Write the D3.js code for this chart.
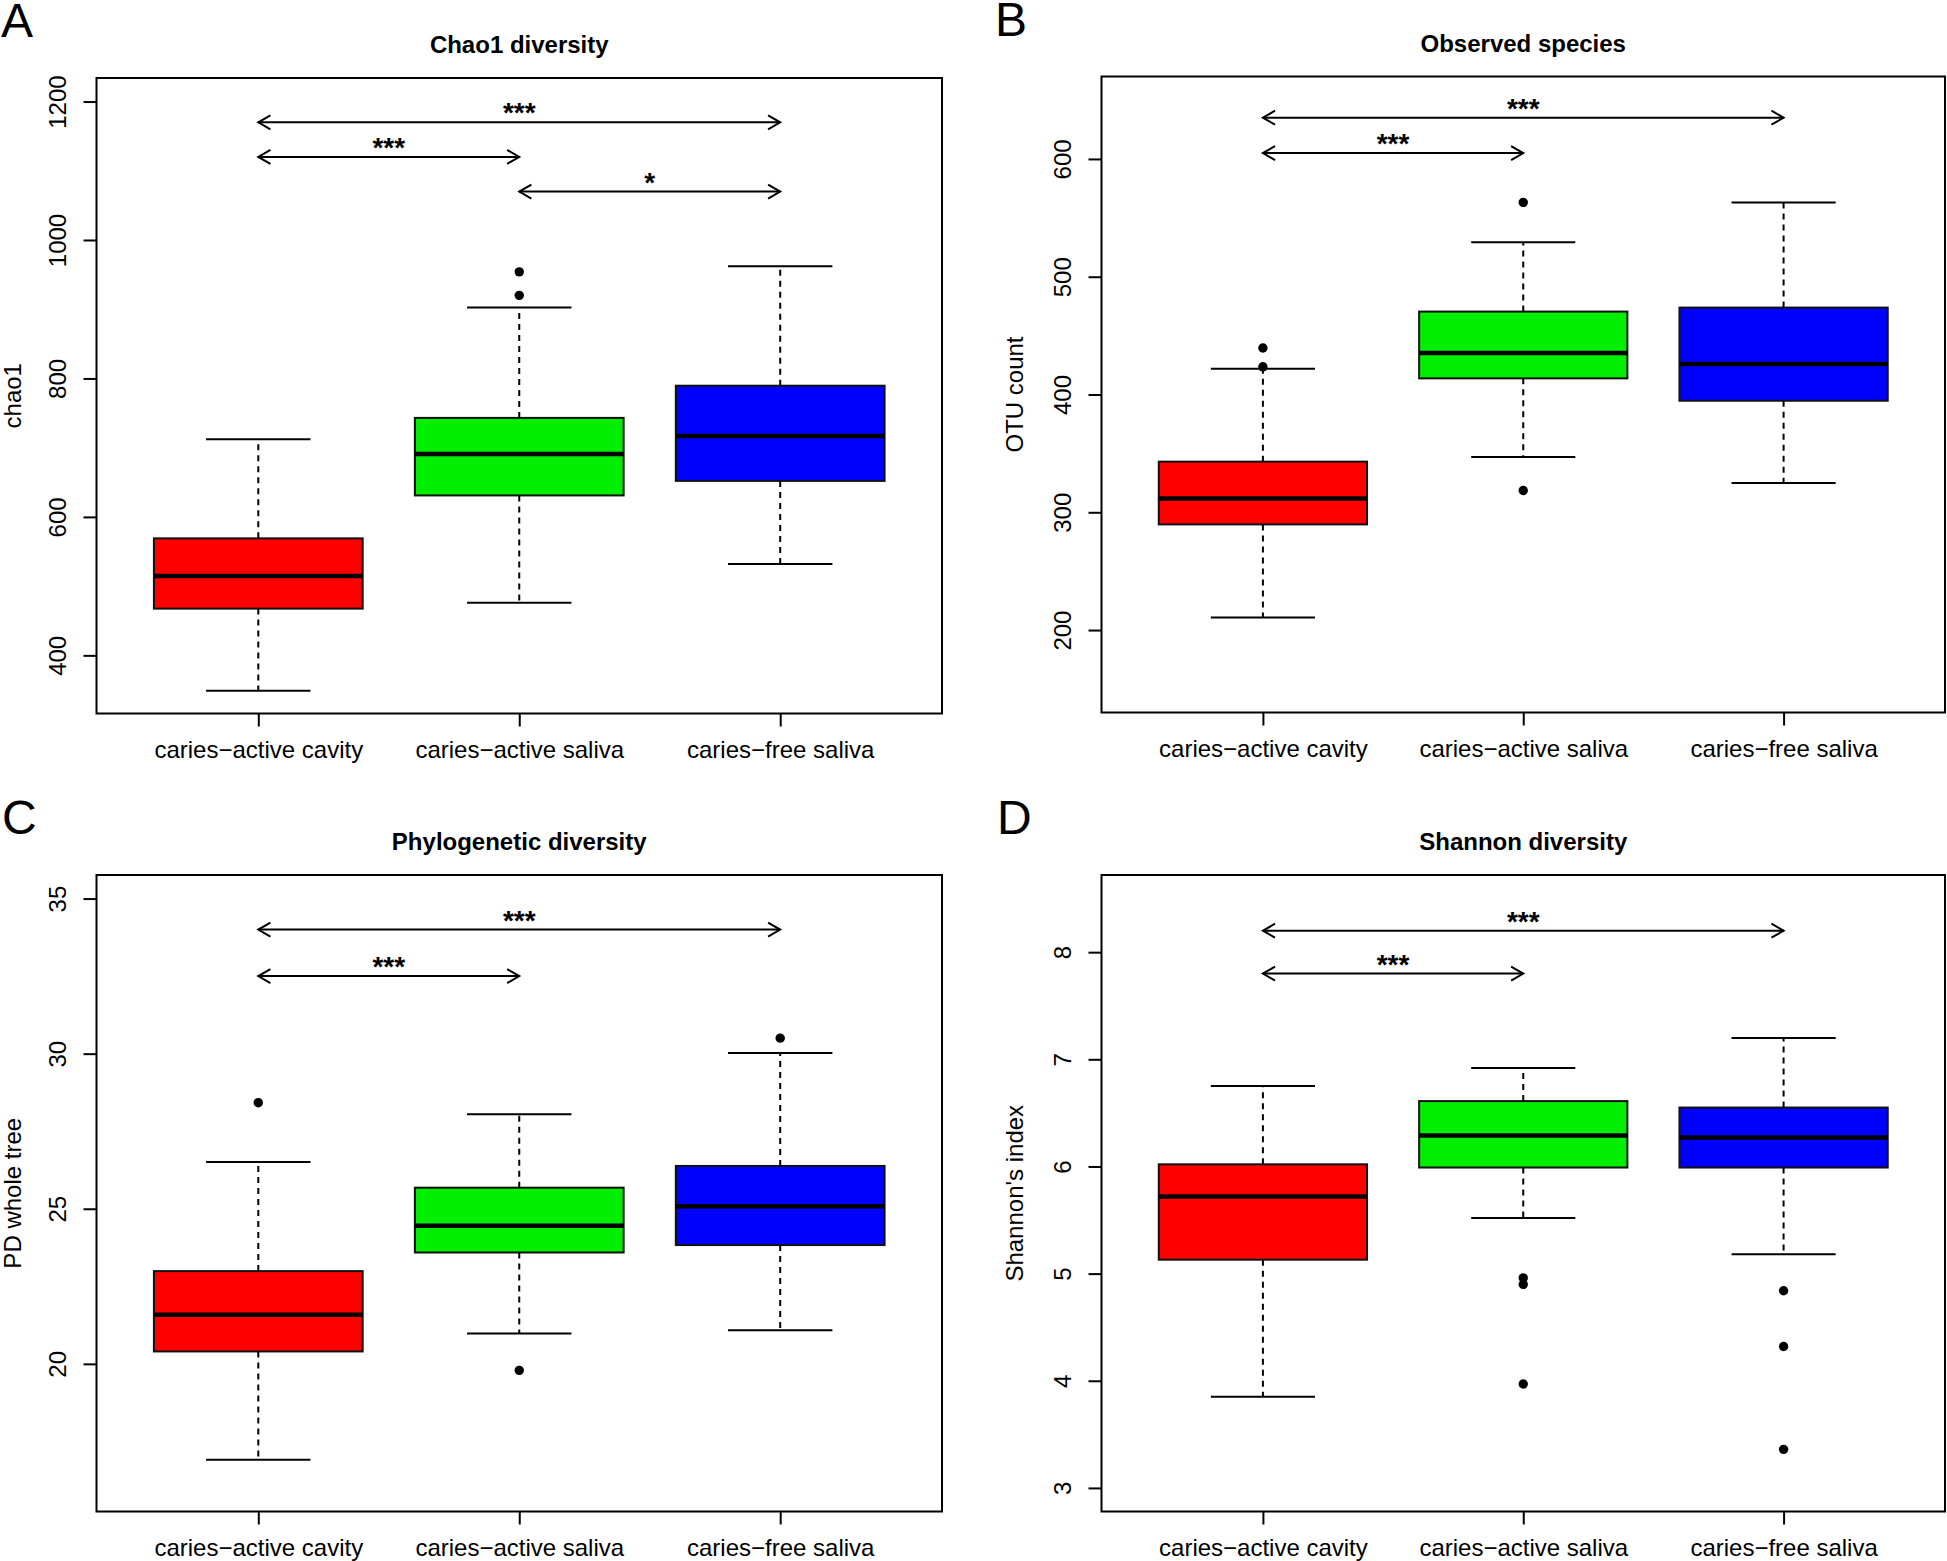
<!DOCTYPE html>
<html><head><meta charset="utf-8">
<script src="https://cdn.jsdelivr.net/npm/d3@7"></script>
<style>
body{margin:0;background:#fff}
svg{display:block}
text{font-family:"Liberation Sans",Arial,Helvetica,sans-serif;fill:#000}
</style>
</head><body>
<svg id="chart" width="1947" height="1561"></svg>
<script>
const categories = ["caries\u2212active cavity","caries\u2212active saliva","caries\u2212free saliva"];
const boxColors = ["#FF0000","#00EE00","#0000FF"];

// each row: [lower whisker, Q1, median, Q3, upper whisker]
const chao1Stats = [[349,467.5,514.5,569,712],[476,631,691,743,902.5],[532,652,717,789.5,962]];
const chao1Outliers = [[],[920,954],[]];
const chao1Ticks = [400,600,800,1000,1200];
const chao1Brackets = [[1,3,1170,"***"],[1,2,1120,"***"],[2,3,1070,"*"]];

const otuStats = [[210.6,289.7,311.7,343,421.8],[346.9,413.7,435.3,470.4,529.3],[324.8,394.7,426,473.8,563.1]];
const otuOutliers = [[423.5,439.5],[318.5,563.1],[]];
const otuTicks = [200,300,400,500,600];
const otuBrackets = [[1,3,635,"***"],[1,2,605,"***"]];

const pdStats = [[16.91,20.4,21.58,22.99,26.51],[20.98,23.59,24.45,25.68,28.05],[21.08,23.83,25.08,26.38,30.02]];
const pdOutliers = [[28.42],[19.79],[30.5]];
const pdTicks = [20,25,30,35];
const pdBrackets = [[1,3,34,"***"],[1,2,32.5,"***"]];

const shannonStats = [[3.85,5.13,5.72,6.02,6.75],[5.52,5.99,6.29,6.61,6.92],[5.18,5.99,6.27,6.55,7.2]];
const shannonOutliers = [[],[3.97,4.9,4.96],[3.36,4.32,4.84]];
const shannonTicks = [3,4,5,6,7,8];
const shannonBrackets = [[1,3,8.2,"***"],[1,2,7.8,"***"]];

const panels = [
  {letter:"A", title:"Chao1 diversity", ylabel:"chao1", stats:chao1Stats, outliers:chao1Outliers, ticks:chao1Ticks, brackets:chao1Brackets,
   ylim:[350,1200], rect:{l:96.5,t:78,r:942,b:713.5}, letterPos:[1,37], ylabX:12},
  {letter:"B", title:"Observed species", ylabel:"OTU count", stats:otuStats, outliers:otuOutliers, ticks:otuTicks, brackets:otuBrackets,
   ylim:[150,650], rect:{l:1101.5,t:76.5,r:1945,b:712.5}, letterPos:[995,36], ylabX:1014},
  {letter:"C", title:"Phylogenetic diversity", ylabel:"PD whole tree", stats:pdStats, outliers:pdOutliers, ticks:pdTicks, brackets:pdBrackets,
   ylim:[16,35], rect:{l:96.5,t:875,r:942,b:1511.5}, letterPos:[2,834], ylabX:12},
  {letter:"D", title:"Shannon diversity", ylabel:"Shannon's index", stats:shannonStats, outliers:shannonOutliers, ticks:shannonTicks, brackets:shannonBrackets,
   ylim:[3,8.5], rect:{l:1101.5,t:875,r:1945,b:1511.5}, letterPos:[997,834], ylabX:1014}
];

const svg = d3.select("#chart");
const FONT = 24;

panels.forEach(p => {
  const R = p.rect;
  const g = svg.append("g");
  const ext = 0.04*(p.ylim[1]-p.ylim[0]);
  const y = d3.scaleLinear().domain([p.ylim[0]-ext, p.ylim[1]+ext]).range([R.b, R.t]);
  const x = d3.scaleLinear().domain([0.38, 3.62]).range([R.l, R.r]);
  const unit = x(2)-x(1);

  // boxes
  p.stats.forEach((s, i) => {
    const cx = x(i+1);
    const [lo, q1, med, q3, hi] = s;
    const bg = g.append("g");
    bg.append("line").attr("x1",cx).attr("x2",cx).attr("y1",y(q3)).attr("y2",y(hi))
      .attr("stroke","#000").attr("stroke-width",2).attr("stroke-dasharray","6,5");
    bg.append("line").attr("x1",cx).attr("x2",cx).attr("y1",y(q1)).attr("y2",y(lo))
      .attr("stroke","#000").attr("stroke-width",2).attr("stroke-dasharray","6,5");
    [lo, hi].forEach(v => {
      bg.append("line").attr("x1",cx-0.2*unit).attr("x2",cx+0.2*unit).attr("y1",y(v)).attr("y2",y(v))
        .attr("stroke","#000").attr("stroke-width",2);
    });
    bg.append("rect").attr("x",cx-0.4*unit).attr("y",y(q3)).attr("width",0.8*unit).attr("height",y(q1)-y(q3))
      .attr("fill",boxColors[i]).attr("stroke","#111").attr("stroke-width",2);
    bg.append("line").attr("x1",cx-0.4*unit).attr("x2",cx+0.4*unit).attr("y1",y(med)).attr("y2",y(med))
      .attr("stroke","#000").attr("stroke-width",4.5);
    p.outliers[i].forEach(v => {
      bg.append("circle").attr("cx",cx).attr("cy",y(v)).attr("r",4.7).attr("fill","#000");
    });
  });

  // significance brackets
  const L = 14, ang = Math.PI/6;
  const dx = L*Math.cos(ang), dy = L*Math.sin(ang);
  p.brackets.forEach(b => {
    const [a, c, v, lab] = b;
    const x1 = x(a), x2 = x(c), yy = y(v);
    g.append("line").attr("x1",x1).attr("x2",x2).attr("y1",yy).attr("y2",yy)
      .attr("stroke","#000").attr("stroke-width",2);
    g.append("path").attr("d",`M${x1+dx},${yy-dy}L${x1},${yy}L${x1+dx},${yy+dy}`)
      .attr("fill","none").attr("stroke","#000").attr("stroke-width",2);
    g.append("path").attr("d",`M${x2-dx},${yy-dy}L${x2},${yy}L${x2-dx},${yy+dy}`)
      .attr("fill","none").attr("stroke","#000").attr("stroke-width",2);
    g.append("text").attr("x",(x1+x2)/2).attr("y",yy).attr("text-anchor","middle")
      .attr("font-size",28).attr("font-weight","bold").text(lab);
  });

  // frame
  g.append("rect").attr("x",R.l).attr("y",R.t).attr("width",R.r-R.l).attr("height",R.b-R.t)
    .attr("fill","none").attr("stroke","#000").attr("stroke-width",2);

  // y axis
  const ya = g.append("g").attr("transform",`translate(${R.l},0)`)
    .call(d3.axisLeft(y).tickValues(p.ticks).tickSize(13).tickSizeOuter(0).tickFormat(d3.format("d")));
  ya.select(".domain").remove();
  ya.selectAll(".tick line").attr("stroke","#000").attr("stroke-width",2);
  ya.selectAll(".tick text").attr("x",null).attr("dy",null)
    .attr("transform","translate(-39.5,0) rotate(-90)")
    .attr("text-anchor","middle").attr("dy","0.36em")
    .attr("font-size",FONT).attr("font-family",null).attr("fill","#000");

  // x axis
  const xa = g.append("g").attr("transform",`translate(0,${R.b})`)
    .call(d3.axisBottom(x).tickValues([1,2,3]).tickSize(13).tickSizeOuter(0).tickFormat(d => categories[d-1]));
  xa.select(".domain").remove();
  xa.selectAll(".tick line").attr("stroke","#000").attr("stroke-width",2);
  xa.selectAll(".tick text").attr("y",44.5).attr("dy",null)
    .attr("font-size",FONT).attr("font-family",null).attr("fill","#000");

  // title
  g.append("text").attr("x",(R.l+R.r)/2).attr("y",R.t-25).attr("text-anchor","middle")
    .attr("font-size",24).attr("font-weight","bold").text(p.title);

  // y label
  g.append("text").attr("transform",`translate(${p.ylabX},${(R.t+R.b)/2}) rotate(-90)`)
    .attr("text-anchor","middle").attr("dy","0.36em").attr("font-size",FONT).text(p.ylabel);

  // panel letter
  g.append("text").attr("x",p.letterPos[0]).attr("y",p.letterPos[1])
    .attr("font-size",48).text(p.letter);
});
</script>
</body></html>
